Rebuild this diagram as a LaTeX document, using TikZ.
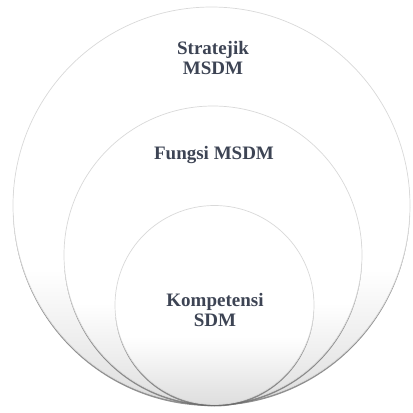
\documentclass[tikz,border=0pt]{standalone}
\usepackage{fontspec}
\setmainfont{Liberation Serif}
\usetikzlibrary{shadows}
\definecolor{labelink}{HTML}{3D4454}
% white body that greys only towards the lower edge (25bp = bottom, 75bp = top)
\pgfdeclareverticalshading{ringfill}{100bp}{color(0bp)=(black!13); color(25bp)=(black!13); color(42bp)=(white); color(100bp)=(white)}
\begin{document}
\begin{tikzpicture}[x=1pt,y=-1pt,
  ring/.style={circle, inner sep=0pt, draw=black!15, line width=0.7pt,
    shading=ringfill,
    drop shadow={shadow xshift=0pt, shadow yshift=-2pt, opacity=0.75, fill=black!58}},
  tag/.style={font=\bfseries\fontsize{19}{20.5}\selectfont, text=labelink, align=center, inner sep=0pt}]
  \useasboundingbox (0,0) rectangle (413,413);
  % three nested circles touching at the bottom
  \node[ring, minimum size=397pt] (outer) at (211.5,205.5) {};
  \node[ring, minimum size=298pt] (middle) at (213,255) {};
  \node[ring, minimum size=199pt] (inner) at (214.5,305) {};
  % labels
  \node[tag] (strat) at (213,58) {Stratejik\\MSDM};
  \node[tag] (fungsi) at (214,155) {Fungsi MSDM};
  \node[tag] (komp) at (215,310) {Kompetensi\\SDM};
\end{tikzpicture}
\end{document}
